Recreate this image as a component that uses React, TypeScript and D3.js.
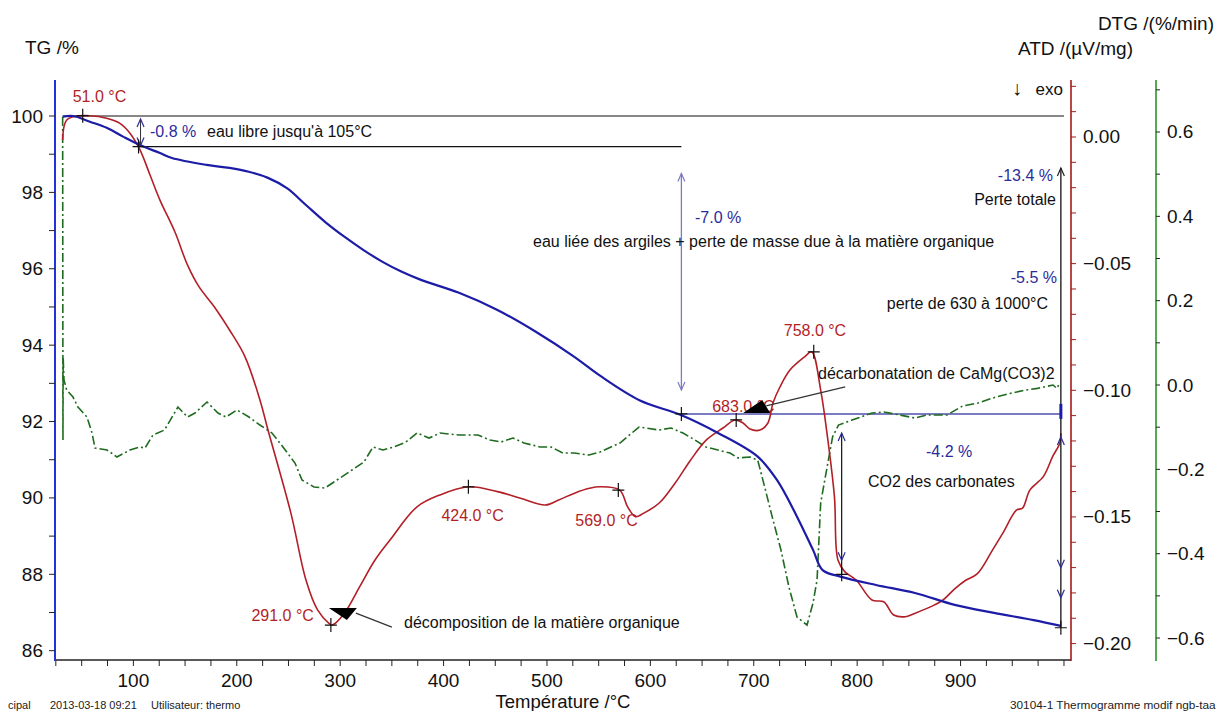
import React from 'react';
import * as d3 from 'd3';

// ---------- data ----------
const xTickValues = [100, 200, 300, 400, 500, 600, 700, 800, 900];
const tgTickValues = [86, 88, 90, 92, 94, 96, 98, 100];
const atdTickValues = [0.0, -0.05, -0.1, -0.15, -0.2];
const dtgTickValues = [0.6, 0.4, 0.2, 0.0, -0.2, -0.4, -0.6];

// TG (%) vs temperature (°C)
const tgSeries: [number, number][] = [
  [31.6, 99.98], [41.6, 100.0], [58, 99.85], [74.2, 99.69], [90, 99.46], [106.4, 99.24],
  [125.7, 99.03], [137.3, 98.9], [170.9, 98.72], [193, 98.64], [211.6, 98.54], [230.2, 98.38],
  [248.5, 98.11], [266.9, 97.67], [285.3, 97.23], [304, 96.84], [322.6, 96.49], [341, 96.18],
  [359.6, 95.92], [378.1, 95.71], [414.9, 95.37], [452.1, 94.92], [489.2, 94.35], [526.1, 93.7],
  [551.3, 93.2], [589.4, 92.56], [629.6, 92.17], [665.4, 91.7], [703.8, 91.08], [722.4, 90.47],
  [741.8, 89.51], [757.3, 88.64], [766.6, 88.11], [783.8, 87.94], [818.2, 87.72], [855.9, 87.51],
  [894.3, 87.2], [932.3, 86.99], [970.6, 86.8], [997, 86.65],
];

// ATD (µV/mg) vs temperature
const atdSeries: [number, number][] = [
  [31.6, -0.0012], [32.9, 0.0041], [35.5, 0.0067], [41.6, 0.008], [58, 0.0084], [74.2, 0.0074],
  [87, 0.0054], [96.7, 0.0015], [106.4, -0.0051], [116.1, -0.015], [125.7, -0.0249], [140.2, -0.0375],
  [152.3, -0.0505], [163.4, -0.0591], [178.2, -0.067], [193, -0.0762], [207.9, -0.0867], [222.4, -0.1038],
  [230.2, -0.1157], [252.4, -0.1486], [266.9, -0.1749], [278.1, -0.1867], [289.2, -0.192], [292.1, -0.1927],
  [304.1, -0.188], [318.9, -0.1775], [333.7, -0.167], [348.2, -0.1591], [374.3, -0.146], [396.5, -0.1413],
  [424.4, -0.1381], [452.1, -0.14], [474.4, -0.1426], [498.5, -0.1453], [511.3, -0.1433], [526.1, -0.1407],
  [541, -0.1387], [551.3, -0.1381], [570.3, -0.1394], [578, -0.146], [585.6, -0.1499], [593.2, -0.1486],
  [608.3, -0.1446], [623.8, -0.1367], [639, -0.1275], [654.2, -0.1196], [670.2, -0.1149], [681.8, -0.1117],
  [689.6, -0.1129], [696.3, -0.1153], [706, -0.1157], [713.7, -0.1129], [718.6, -0.105], [725.3, -0.0987],
  [735, -0.092], [749.5, -0.0867], [756, -0.0848], [764.7, -0.0999], [770.4, -0.1157], [778, -0.142],
  [781.4, -0.167], [788.2, -0.1717], [799, -0.1749], [814.3, -0.1828], [825.7, -0.1835], [835.3, -0.1887],
  [846.7, -0.1894], [856.2, -0.188], [871.4, -0.1854], [883, -0.1828], [894, -0.1785], [905, -0.175],
  [916, -0.1725], [931, -0.163], [941, -0.1563], [954, -0.1473], [960, -0.1465], [967, -0.1394],
  [980, -0.1341], [989, -0.1262], [996, -0.1208], [997, -0.117],
];

// DTG (%/min) vs temperature
const dtgSeries: [number, number][] = [
  [31.6, 0.6355], [31.9, -0.1304], [32.1, 0.0664], [32.9, 0.0119], [35.5, -0.0119], [41.6, -0.0285],
  [46.4, -0.0522], [55.1, -0.0759], [60, -0.1138], [62.9, -0.1494], [74.5, -0.1541], [84.1, -0.1707],
  [96.7, -0.1541], [106.4, -0.147], [111.2, -0.1494], [118.9, -0.1186], [130.1, -0.1067], [143.1, -0.0522],
  [152.3, -0.0759], [159.6, -0.0664], [171.2, -0.0403], [181.8, -0.0664], [189.6, -0.0759], [200.2, -0.0593],
  [211.8, -0.0759], [222.4, -0.0949], [234, -0.1138], [244.7, -0.147], [256.3, -0.185], [263.1, -0.2253],
  [274.7, -0.2419], [285.3, -0.2443], [296.9, -0.2253], [311.4, -0.2016], [323, -0.1826], [331.7, -0.147],
  [341.4, -0.1541], [352, -0.147], [363.6, -0.1352], [374.3, -0.1138], [385.9, -0.1257], [396.5, -0.1138],
  [414.9, -0.1186], [433.3, -0.1186], [444.9, -0.1304], [455.5, -0.1352], [467.1, -0.1257], [477.8, -0.1375],
  [493.2, -0.147], [503.9, -0.147], [515.5, -0.1613], [526.1, -0.1613], [540.6, -0.166], [551.3, -0.1589],
  [570.6, -0.1375], [589, -0.0996], [608.3, -0.1067], [619.9, -0.102], [631.5, -0.1138], [643.1, -0.1304],
  [653.8, -0.147], [665.4, -0.1541], [677, -0.1613], [684.7, -0.1731], [696.3, -0.1707], [703.8, -0.1779],
  [711.3, -0.249], [718.6, -0.3201], [726.3, -0.3913], [734, -0.479], [741.8, -0.5502], [751.5, -0.5691],
  [757.3, -0.5169], [761.2, -0.4624], [764.7, -0.2798], [770.4, -0.2016], [776.2, -0.1233], [781.9, -0.0949],
  [795, -0.083], [814.3, -0.0664], [825.9, -0.064], [841, -0.0711], [855.9, -0.0783], [867.5, -0.0711],
  [886.8, -0.0711], [901.9, -0.05], [916.8, -0.0427], [932.3, -0.03], [947.8, -0.02], [963, -0.012],
  [974.4, -0.008], [989.4, 0.0], [993.2, -0.008], [996.1, 0.005],
];

// ATD peak markers (temperature, value, label)
const atdPeaks: [number, number, string][] = [
  [51, 0.0084, '51.0 °C'],
  [291, -0.1927, '291.0 °C'],
  [424, -0.1381, '424.0 °C'],
  [569, -0.1394, '569.0 °C'],
  [683, -0.1117, '683.0 °C'],
  [758, -0.0848, '758.0 °C'],
];
// TG step markers (temperature, %)
const tgSteps: [number, number][] = [[105, 99.2], [630, 92.2], [785, 88.0], [997, 86.6]];

const FONT = 'Liberation Sans, Arial, Helvetica, sans-serif';
const BLUE = '#1c1ca6';
const RED = '#b21f27';
const GREEN = '#1f6b1f';
const LAV = '#7b7bc4';
const TXTBLUE = '#2b2b9c';

function chevron(x: number, y: number, dir: 'up' | 'down', color: string, key: string) {
  const s = dir === 'up' ? 1 : -1;
  return (
    <path key={key} d={`M${x - 3.5},${y + 8 * s} L${x},${y} L${x + 3.5},${y + 8 * s}`}
      fill="none" stroke={color} strokeWidth={1.2} />
  );
}

export default function App() {
  const x = d3.scaleLinear().domain([24.2, 1006.8]).range([55, 1071]);
  const yTG = d3.scaleLinear().domain([85.756, 100.943]).range([660, 80]);
  const yATD = d3.scaleLinear().domain([-0.20648, 0.0225]).range([660, 80]);
  const yDTG = d3.scaleLinear().domain([-0.6521, 0.7233]).range([660, 80]);

  const tgLine = d3.line<[number, number]>().x(d => x(d[0])).y(d => yTG(d[1])).curve(d3.curveCatmullRom.alpha(0.5));
  const atdLine = d3.line<[number, number]>().x(d => x(d[0])).y(d => yATD(d[1])).curve(d3.curveCatmullRom.alpha(0.5));
  const dtgLine = d3.line<[number, number]>().x(d => x(d[0])).y(d => yDTG(d[1]));

  const xMinor = d3.range(25, 1001, 25);
  const tgMinor = d3.range(86, 101, 1);
  const atdMinor = d3.range(-20, 3, 1).map(v => v / 100);
  const dtgMinor = d3.range(-6, 8, 1).map(v => v / 10);

  const fmtATD = (v: number) => (Math.abs(v) < 1e-9 ? '0.00' : d3.format('.2f')(v));
  const fmtDTG = (v: number) => (Math.abs(v) < 1e-9 ? '0.0' : d3.format('.1f')(v));

  const cross = (cx: number, cy: number, key: string) => (
    <path key={key} d={`M${cx - 6},${cy} L${cx + 6},${cy} M${cx},${cy - 7} L${cx},${cy + 7}`} stroke="#111" strokeWidth={1.2} />
  );

  // positions used by annotations
  const xA = x(105), xB = x(630), xC = x(785), xD = x(997);
  const y100 = yTG(100), y992 = yTG(99.2), y922 = yTG(92.2), y880 = yTG(88.0), y866 = yTG(86.6);

  const labelOffsets: [number, number, string][] = [
    [-10, -19, 'start'], [-17, -10, 'end'], [-27, 29, 'start'], [-43, 30, 'start'], [-24, -13, 'start'], [-30, -21, 'start'],
  ];

  const p291 = atdPeaks[1];
  const p683 = atdPeaks[4];
  const c291x = x(p291[0]), c291y = yATD(p291[1]);
  const c683x = x(p683[0]), c683y = yATD(p683[1]);

  return (
    <svg width={1218} height={711} style={{ position: 'absolute', left: 0, top: 0, background: '#fff' }} fontFamily={FONT}>
      <rect x={0} y={0} width={1218} height={711} fill="#fff" />

      {/* axis titles */}
      <text x={25} y={47} fontSize={19} dominantBaseline="central" fill="#111">TG /%</text>
      <text x={1214} y={23} fontSize={19} textAnchor="end" dominantBaseline="central" fill="#111">DTG /(%/min)</text>
      <text x={1133} y={48} fontSize={19} textAnchor="end" dominantBaseline="central" fill="#111">ATD /(µV/mg)</text>
      <text x={1017} y={88} fontSize={20} textAnchor="middle" dominantBaseline="central" fill="#111">↓</text>
      <text x={1063} y={89} fontSize={17} textAnchor="end" dominantBaseline="central" fill="#111">exo</text>

      {/* bottom axis */}
      <line x1={55} x2={1071} y1={660} y2={660} stroke="#222" strokeWidth={1.5} />
      {xMinor.map(t => (
        <line key={'xt' + t} x1={x(t)} x2={x(t)} y1={660} y2={666} stroke="#222" strokeWidth={1} />
      ))}
      {xTickValues.map(t => (
        <text key={'xl' + t} x={x(t)} y={680} fontSize={19} textAnchor="middle" dominantBaseline="central" fill="#111">{t}</text>
      ))}
      <text x={563} y={701} fontSize={18.5} textAnchor="middle" dominantBaseline="central" fill="#111">Température /°C</text>

      {/* left TG axis */}
      <line x1={55} x2={55} y1={80} y2={661} stroke="#2233dd" strokeWidth={2} />
      {tgMinor.map(v => (
        <line key={'tgt' + v} x1={49} x2={55} y1={yTG(v)} y2={yTG(v)} stroke="#222" strokeWidth={1} />
      ))}
      {tgTickValues.map(v => (
        <text key={'tgl' + v} x={43} y={yTG(v)} fontSize={19} textAnchor="end" dominantBaseline="central" fill="#111">{v}</text>
      ))}

      {/* right ATD axis */}
      <line x1={1071} x2={1071} y1={80} y2={661} stroke="#a51a1a" strokeWidth={1.6} />
      {atdMinor.map(v => (
        <line key={'at' + v} x1={1071} x2={1076} y1={yATD(v)} y2={yATD(v)} stroke="#a51a1a" strokeWidth={1} />
      ))}
      {atdTickValues.map(v => (
        <text key={'al' + v} x={1083} y={yATD(v)} fontSize={19} dominantBaseline="central" fill="#111">{fmtATD(v)}</text>
      ))}

      {/* right DTG axis */}
      <line x1={1156} x2={1156} y1={80} y2={661} stroke="#2a962a" strokeWidth={1.6} />
      {dtgMinor.map(v => (
        <line key={'dt' + v} x1={1156} x2={1160} y1={yDTG(v)} y2={yDTG(v)} stroke="#222" strokeWidth={1} />
      ))}
      {dtgTickValues.map(v => (
        <text key={'dl' + v} x={1167} y={yDTG(v)} fontSize={19} dominantBaseline="central" fill="#111">{fmtDTG(v)}</text>
      ))}

      {/* reference lines */}
      <line x1={x(31.6)} x2={x(1000)} y1={y100} y2={y100} stroke="#111" strokeWidth={1.2} />
      <line x1={xA} x2={xB} y1={y992} y2={y992} stroke="#111" strokeWidth={1.2} />
      <line x1={xB} x2={xD} y1={y922} y2={y922} stroke={LAV} strokeWidth={2} />

      {/* curves */}
      <path d={dtgLine(dtgSeries) || ''} fill="none" stroke={GREEN} strokeWidth={1.6} strokeDasharray="9,3,2,3" />
      <path d={atdLine(atdSeries) || ''} fill="none" stroke={RED} strokeWidth={1.6} />
      <path d={tgLine(tgSeries) || ''} fill="none" stroke={BLUE} strokeWidth={2.2} />

      {/* step -0.8 % */}
      <line x1={xA + 2} x2={xA + 2} y1={y100 + 3} y2={y992} stroke="#333" strokeWidth={1} />
      {chevron(xA + 2, y100 + 3, 'up', TXTBLUE, 'c1')}
      {chevron(xA + 2, y992 - 1, 'down', TXTBLUE, 'c2')}
      <text x={150} y={131} fontSize={16} dominantBaseline="central" fill={TXTBLUE}>-0.8 %</text>
      <text x={207} y={131} fontSize={16} dominantBaseline="central" fill="#111">eau libre jusqu'à 105°C</text>

      {/* step -7.0 % */}
      <line x1={xB} x2={xB} y1={y992 + 27} y2={y922 - 24} stroke={LAV} strokeWidth={1.3} />
      {chevron(xB, y992 + 27, 'up', LAV, 'c3')}
      {chevron(xB, y922 - 24, 'down', LAV, 'c4')}
      <text x={695} y={217} fontSize={16} dominantBaseline="central" fill={TXTBLUE}>-7.0 %</text>
      <text x={533} y={241} fontSize={16} dominantBaseline="central" fill="#111">eau liée des argiles + perte de masse due à la matière organique</text>

      {/* step -4.2 % */}
      <line x1={xC} x2={xC} y1={y922 + 19} y2={y880} stroke="#111" strokeWidth={1.2} />
      {chevron(xC, y922 + 19, 'up', TXTBLUE, 'c5')}
      {chevron(xC, y880 - 14, 'down', TXTBLUE, 'c6')}
      <text x={926} y={451} fontSize={16} dominantBaseline="central" fill={TXTBLUE}>-4.2 %</text>
      <text x={868} y={481} fontSize={16} dominantBaseline="central" fill="#111">CO2 des carbonates</text>

      {/* total & 630-1000 */}
      <line x1={xD} x2={xD} y1={168} y2={y866} stroke="#111" strokeWidth={1.3} />
      <line x1={xD} x2={xD} y1={y922 - 10} y2={y922 + 5} stroke={BLUE} strokeWidth={3} />
      {chevron(xD, 168, 'up', '#222', 'c7')}
      {chevron(xD, y922 + 23, 'up', TXTBLUE, 'c8')}
      {chevron(xD, y866 - 60, 'down', TXTBLUE, 'c9')}
      {chevron(xD, y866 - 30, 'down', TXTBLUE, 'c10')}
      <text x={1053} y={175} fontSize={16} textAnchor="end" dominantBaseline="central" fill={TXTBLUE}>-13.4 %</text>
      <text x={1056} y={199} fontSize={16} textAnchor="end" dominantBaseline="central" fill="#111">Perte totale</text>
      <text x={1057} y={277} fontSize={16} textAnchor="end" dominantBaseline="central" fill={TXTBLUE}>-5.5 %</text>
      <text x={1048} y={303} fontSize={16} textAnchor="end" dominantBaseline="central" fill="#111">perte de 630 à 1000°C</text>

      {/* markers */}
      {atdPeaks.map((p, i) => cross(x(p[0]), yATD(p[1]), 'pk' + i))}
      {tgSteps.map((p, i) => cross(x(p[0]), yTG(p[1]), 'st' + i))}
      {atdPeaks.map((p, i) => (
        <text key={'pl' + i} x={x(p[0]) + labelOffsets[i][0]} y={yATD(p[1]) + labelOffsets[i][1]} fontSize={16}
          textAnchor={labelOffsets[i][2] as any} dominantBaseline="central" fill={RED}>{p[2]}</text>
      ))}

      {/* pointer: décomposition */}
      <path d={`M${c291x - 2},${c291y - 17} L${c291x + 26},${c291y - 17} L${c291x + 16},${c291y - 5} Z`} fill="#000" />
      <line x1={c291x + 25} x2={c291x + 61} y1={c291y - 12} y2={c291y + 2} stroke="#333" strokeWidth={1.2} />
      <text x={404} y={622} fontSize={16} dominantBaseline="central" fill="#111">décomposition de la matière organique</text>

      {/* pointer: décarbonatation */}
      <path d={`M${c683x + 7},${c683y - 7} L${c683x + 26},${c683y - 20} L${c683x + 34},${c683y - 7} Z`} fill="#000" />
      <line x1={c683x + 30} x2={c683x + 109} y1={c683y - 14} y2={c683y - 33} stroke="#333" strokeWidth={1.2} />
      <text x={818} y={373} fontSize={16} dominantBaseline="central" fill="#111">décarbonatation de CaMg(CO3)2</text>

      {/* footer */}
      <text x={8} y={705} fontSize={11} dominantBaseline="central" fill="#222">cipal</text>
      <text x={50} y={705} fontSize={11} dominantBaseline="central" fill="#222">2013-03-18 09:21</text>
      <text x={151} y={705} fontSize={11} dominantBaseline="central" fill="#222">Utilisateur: thermo</text>
      <text x={1010} y={705} fontSize={11.8} dominantBaseline="central" fill="#222">30104-1 Thermogramme modif ngb-taa</text>
    </svg>
  );
}
